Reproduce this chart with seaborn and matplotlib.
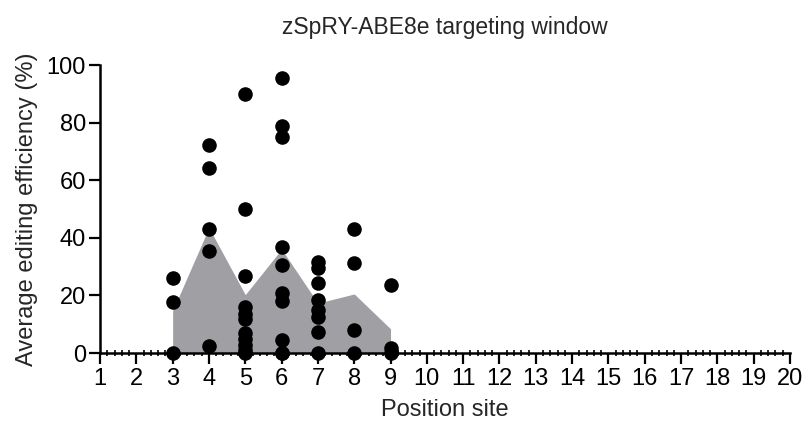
import numpy as np
import pandas as pd
import matplotlib
matplotlib.use("Agg")
import matplotlib.pyplot as plt
from matplotlib.ticker import MultipleLocator
import seaborn as sns

# ---- data ----
pos3 = [26.2, 17.8, 0.0]
pos4 = [72.2, 64.4, 43.1, 35.4, 2.5]
pos5 = [89.8, 49.9, 26.7, 15.8, 13.5, 11.8, 6.8, 4.8, 2.8, 1.0, 0.0]
pos6 = [95.6, 78.8, 74.9, 36.9, 30.6, 21.0, 18.0, 4.6, 0.0, 0.0]
pos7 = [31.7, 29.4, 24.2, 18.4, 14.9, 12.6, 7.4, 0.0]
pos8 = [42.9, 31.1, 8.0, 0.0]
pos9 = [23.6, 1.6, 0.0]
positions = [3, 4, 5, 6, 7, 8, 9]
x_ticks = list(range(1, 21))
y_ticks = [0, 20, 40, 60, 80, 100]
title = "zSpRY-ABE8e targeting window"
xlabel = "Position site"
ylabel = "Average editing efficiency (%)"

groups = [pos3, pos4, pos5, pos6, pos7, pos8, pos9]
df = pd.DataFrame(
    [(p, v) for p, vals in zip(positions, groups) for v in vals],
    columns=["position", "efficiency"],
)
means = df.groupby("position")["efficiency"].mean()

sns.set_style("ticks")
plt.rcParams["font.family"] = ["Liberation Sans", "DejaVu Sans"]

fig = plt.figure(figsize=(8.06, 4.32), dpi=100)
ax = fig.add_axes([100 / 806, (432 - 353) / 432, 690 / 806, 288 / 432])

ax.fill_between(means.index, means.values, 0, color="#a0a0a4", linewidth=0, zorder=1)
sns.scatterplot(data=df, x="position", y="efficiency", ax=ax, color="black",
                s=110, linewidth=0, zorder=3, clip_on=False, legend=False)

ax.set_xlim(1, 20)
ax.set_ylim(0, 100)
ax.set_xticks(x_ticks)
ax.set_yticks(y_ticks)
ax.xaxis.set_minor_locator(MultipleLocator(0.2))
ax.tick_params(axis="both", which="major", labelsize=17, width=1.6, length=8,
               color="black", labelcolor="black")
ax.tick_params(axis="x", which="minor", direction="inout", length=4, width=1.2,
               color="black")
ax.tick_params(axis="x", which="major", pad=3)
ax.tick_params(axis="y", which="major", pad=2)
for side in ["top", "right"]:
    ax.spines[side].set_visible(False)
for side in ["left", "bottom"]:
    ax.spines[side].set_linewidth(1.8)
    ax.spines[side].set_color("black")
    ax.spines[side].set_zorder(2)

ax.set_xlabel(xlabel, fontsize=17, labelpad=6)
ax.set_ylabel(ylabel, fontsize=17, labelpad=6)
ax.set_title(title, fontsize=16.5, pad=22)

fig.savefig("out.png", dpi=100)
